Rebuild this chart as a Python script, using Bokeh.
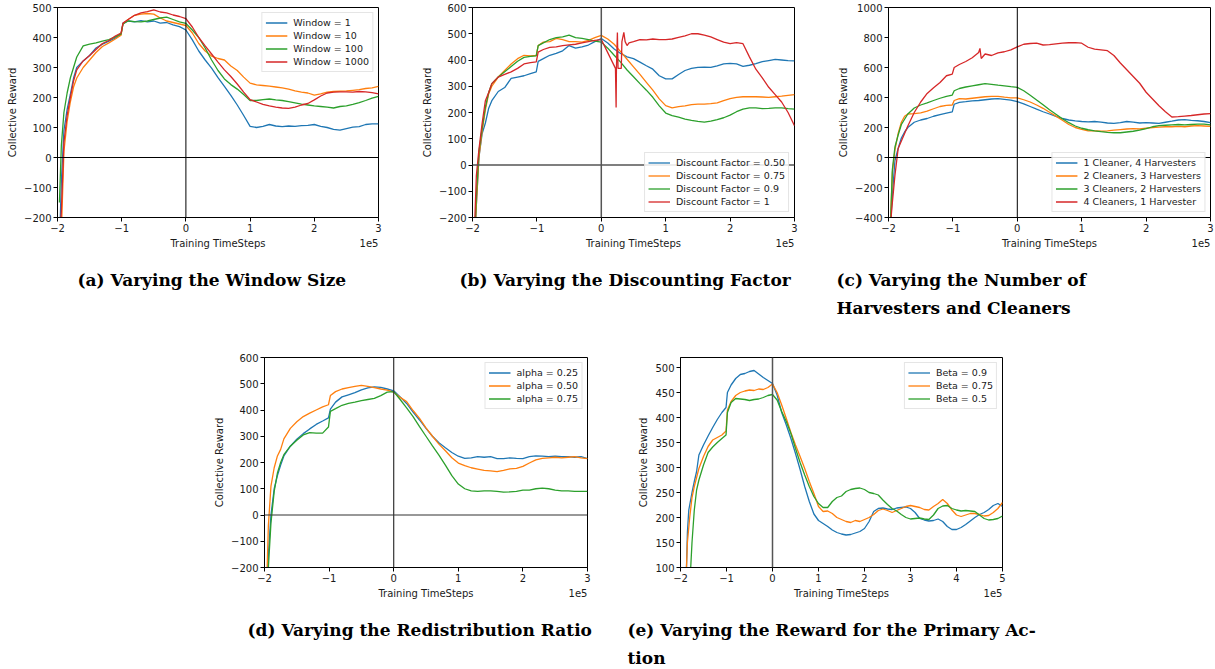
from bokeh.plotting import figure
from bokeh.models import (Span, Title, FixedTicker, Range1d, Spacer, Legend,
                          LegendItem, LinearAxis)
from bokeh.layouts import row, column
from bokeh.embed import file_html
from bokeh.resources import INLINE

colors = ["#1f77b4", "#ff7f0e", "#2ca02c", "#d62728"]

# ---------------- tick labels ----------------
x_ticks_3 = [-2, -1, 0, 1, 2, 3]
x_tick_labels_3 = ["\u22122", "\u22121", "0", "1", "2", "3"]
x_ticks_5 = [-2, -1, 0, 1, 2, 3, 4, 5]
x_tick_labels_5 = ["\u22122", "\u22121", "0", "1", "2", "3", "4", "5"]
y_ticks_a = [-200, -100, 0, 100, 200, 300, 400, 500]
y_tick_labels_a = ["\u2212200", "\u2212100", "0", "100", "200", "300", "400", "500"]
y_ticks_b = [-200, -100, 0, 100, 200, 300, 400, 500, 600]
y_tick_labels_b = ["\u2212200", "\u2212100", "0", "100", "200", "300", "400", "500", "600"]
y_ticks_c = [-400, -200, 0, 200, 400, 600, 800, 1000]
y_tick_labels_c = ["\u2212400", "\u2212200", "0", "200", "400", "600", "800", "1000"]
y_ticks_e = [100, 150, 200, 250, 300, 350, 400, 450, 500]
y_tick_labels_e = ["100", "150", "200", "250", "300", "350", "400", "450", "500"]

# ---------------- data (x in units of 1e5 timesteps) ----------------
x_base = [-1.97, -1.94, -1.9, -1.85, -1.8, -1.75, -1.7,
          -1.6, -1.5, -1.4, -1.3, -1.2, -1.1,
          -1.01, -0.98,
          -0.9, -0.8, -0.7, -0.6, -0.5, -0.4, -0.3, -0.2, -0.1,
          0.0, 0.1, 0.2, 0.3, 0.4, 0.5, 0.6, 0.7, 0.8, 0.9,
          1.0, 1.1, 1.2, 1.3, 1.4, 1.5, 1.6, 1.7, 1.8, 1.9,
          2.0, 2.1, 2.2, 2.3, 2.4, 2.5, 2.6, 2.7, 2.8, 2.9, 3.0]

a_window_1 = [-300, -80, 90, 160, 210, 265, 300,
              322, 340, 365, 378, 388, 398,
              410, 448,
              455, 452, 456, 452, 455, 448, 450, 442, 436,
              425, 392, 355, 325, 298, 266, 237, 207, 175, 140,
              104, 100, 104, 110, 105, 103, 105, 104, 106, 107,
              110, 104, 100, 94, 91, 96, 101, 103, 110, 112, 112]
a_window_10 = [-300, -250, 20, 120, 185, 235, 265,
               300, 325, 350, 370, 382, 395,
               408, 445,
               460, 474, 478, 480, 478, 465, 455, 450, 445,
               440, 415, 380, 355, 338, 330, 325, 305, 290, 268,
               248, 242, 240, 238, 235, 232, 228, 222, 218, 215,
               208, 212, 218, 220, 221, 222, 224, 226, 230, 232, 237]
a_window_100 = [-150, 40, 150, 215, 265, 300, 335,
                372, 378, 382, 388, 393, 402,
                412, 445,
                455, 453, 452, 455, 460, 465, 468, 460, 452,
                447, 425, 400, 365, 325, 290, 262, 243, 228, 210,
                190, 190, 193, 195, 192, 190, 186, 182, 178, 175,
                172, 170, 168, 165, 170, 172, 177, 183, 190, 198, 204]
a_window_1000 = [-300, -180, 50, 140, 200, 255, 292,
                 322, 340, 360, 380, 390, 405,
                 415, 448,
                 460, 474, 482, 486, 492, 485, 482, 475, 470,
                 463, 435, 400, 372, 345, 318, 292, 270, 245, 218,
                 193, 185, 177, 172, 168, 165, 164, 168, 175, 180,
                 192, 205, 215, 218, 219, 219, 218, 220, 219, 216, 212]
a_labels = ["Window = 1", "Window = 10", "Window = 100", "Window = 1000"]

b_gamma_050 = [-300, -150, 30, 120, 160, 215, 245,
               280, 295, 330, 335, 340, 348,
               355, 395,
               405, 418, 425, 435, 455, 445, 450, 457, 470,
               482, 465, 442, 425, 412, 405, 392, 378, 365, 340,
               328, 328, 345, 360, 368, 372, 373, 372, 378, 385,
               387, 385, 376, 380, 386, 394, 398, 402, 400, 398, 397]
b_gamma_075 = [-300, -150, 30, 130, 210, 270, 300,
               335, 360, 385, 405, 418, 416,
               418, 455,
               468, 470, 482, 478, 470, 470, 468, 475, 485,
               494, 480, 460, 432, 403, 374, 345, 315, 285, 252,
               226, 218, 222, 225, 230, 232, 232, 234, 237, 245,
               253, 258, 260, 260, 260, 259, 258, 260, 262, 265, 268]
b_gamma_09 = [-300, -120, 50, 140, 220, 275, 310,
              335, 355, 375, 395, 410, 414,
              416, 455,
              465, 478, 485, 488, 495, 485, 482, 478, 472,
              468, 445, 418, 392, 362, 336, 310, 285, 258, 225,
              198, 188, 182, 175, 170, 166, 163, 167, 173, 180,
              190, 203, 213, 218, 218, 215, 216, 218, 218, 215, 213]
b_x_gamma_1 = [-1.97, -1.94, -1.9, -1.85, -1.8, -1.75, -1.7,
               -1.6, -1.5, -1.4, -1.3, -1.2, -1.1,
               -1.01, -0.98,
               -0.9, -0.8, -0.7, -0.6, -0.5, -0.4, -0.3, -0.2, -0.1, 0.0,
               0.1, 0.22, 0.23, 0.235, 0.25, 0.26, 0.31, 0.32, 0.35, 0.37, 0.4, 0.43,
               0.5, 0.6, 0.7, 0.8, 0.9, 1.0, 1.1, 1.2, 1.3, 1.4,
               1.5, 1.6, 1.7, 1.8, 1.9, 2.0, 2.1, 2.2, 2.3, 2.4,
               2.5, 2.6, 2.7, 2.8, 2.9, 3.0]
b_gamma_1 = [-250, -40, 60, 160, 245, 275, 310,
             335, 345, 355, 368, 385, 390,
             393, 430,
             440, 448, 450, 455, 458, 460, 465, 470, 475, 478,
             428, 368, 219, 368, 505, 368, 368, 470, 505, 470, 455, 465,
             470, 478, 477, 480, 478, 478, 480, 486, 492, 500,
             500, 495, 488, 478, 468, 462, 466, 462, 412, 365,
             332, 296, 268, 240, 200, 150]
b_labels = ["Discount Factor = 0.50", "Discount Factor = 0.75",
            "Discount Factor = 0.9", "Discount Factor = 1"]

c_1c4h = [-450, -250, -20, 60, 130, 170, 200,
          235, 250, 260, 275, 286, 296,
          304, 355,
          368, 372, 378, 380, 385, 390, 392, 388, 382,
          372, 358, 340, 322, 305, 290, 274, 260, 250, 244,
          240, 238, 240, 236, 230, 228, 232, 240, 236, 230,
          232, 230, 228, 235, 242, 250, 252, 248, 245, 240, 232]
c_2c3h = [-450, -100, 50, 160, 235, 275, 290,
          292, 298, 309, 325, 340, 348,
          350, 380,
          393, 390, 395, 400, 405, 408, 408, 402, 398,
          398, 385, 370, 350, 328, 302, 276, 248, 220, 200,
          188, 178, 178, 175, 178, 182, 186, 190, 192, 190,
          195, 200, 203, 205, 205, 208, 205, 210, 212, 210, 208]
c_3c2h = [-450, -80, 70, 150, 220, 255, 290,
          330, 350, 364, 380, 395, 408,
          416, 445,
          460, 470, 478, 485, 492, 488, 482, 478, 472,
          467, 445, 415, 383, 352, 318, 288, 258, 232, 210,
          195, 185, 178, 172, 168, 165, 165, 170, 175, 183,
          192, 205, 212, 215, 218, 220, 218, 220, 222, 222, 218]
c_x_4c1h = [-1.97, -1.94, -1.9, -1.85, -1.8, -1.75, -1.7,
            -1.6, -1.5, -1.4, -1.3, -1.2, -1.1,
            -1.01, -0.98,
            -0.9, -0.8, -0.7, -0.6, -0.58, -0.56,
            -0.5, -0.4, -0.3, -0.2, -0.1,
            0.0, 0.1, 0.2, 0.3, 0.4, 0.5, 0.6, 0.7, 0.8, 0.9,
            1.0, 1.1, 1.2, 1.3, 1.4, 1.5, 1.6, 1.7, 1.8, 1.9,
            2.0, 2.1, 2.2, 2.3, 2.4, 2.5, 2.6, 2.7, 2.8, 2.9, 3.0]
c_4c1h = [-450, -300, -120, 60, 110, 160, 210,
          300, 370, 427, 465, 500, 545,
          556, 600,
          620, 640, 665, 700, 727, 660,
          690, 680, 698, 705, 718,
          738, 755, 760, 762, 750, 752, 758, 762, 765, 766,
          762, 735, 722, 718, 712, 680, 630, 585, 540, 495,
          435, 390, 345, 305, 270, 272, 276, 280, 285, 290, 293]
c_labels = ["1 Cleaner, 4 Harvesters", "2 Cleaners, 3 Harvesters",
            "3 Cleaners, 2 Harvesters", "4 Cleaners, 1 Harvester"]

d_alpha_025 = [-300, -150, 0, 100, 150, 190, 225,
               262, 289, 310, 328, 345, 358,
               370, 403,
               430, 450, 458, 466, 477, 484, 488, 486, 480,
               473, 450, 425, 392, 362, 330, 300, 275, 256, 238,
               224, 216, 218, 222, 220, 222, 215, 215, 218, 216,
               215, 222, 225, 224, 222, 224, 222, 222, 220, 222, 215]
d_alpha_050 = [-300, -40, 110, 180, 225, 250, 290,
               330, 355, 375, 388, 400, 412,
               420, 455,
               470, 480, 485, 490, 494, 490, 485, 480, 476,
               468, 448, 432, 398, 368, 332, 300, 270, 245, 218,
               198, 188, 180, 175, 170, 168, 165, 170, 176, 178,
               185, 198, 210, 216, 218, 220, 218, 220, 222, 218, 215]
d_alpha_075 = [-300, -200, -30, 90, 160, 200, 230,
               262, 285, 305, 314, 312, 312,
               335, 395,
               405, 418, 425, 430, 436, 440, 444, 455, 468,
               470, 440, 408, 375, 337, 300, 263, 228, 190, 150,
               118, 100, 92, 90, 92, 92, 90, 87, 88, 90,
               95, 95, 100, 102, 100, 95, 92, 92, 90, 90, 90]
d_labels = ["alpha = 0.25", "alpha = 0.50", "alpha = 0.75"]

e_x = [-1.9, -1.87, -1.85, -1.82, -1.8, -1.75, -1.7, -1.65, -1.6,
       -1.5, -1.4, -1.3, -1.2, -1.1,
       -1.01, -0.98,
       -0.9, -0.8, -0.7, -0.6, -0.5, -0.4, -0.3, -0.2, -0.1,
       0.0, 0.1, 0.2, 0.3, 0.4, 0.5, 0.6, 0.7, 0.8, 0.9,
       1.0, 1.1, 1.2, 1.3, 1.4, 1.5, 1.6, 1.7, 1.8, 1.9,
       2.0, 2.1, 2.2, 2.3, 2.4, 2.5, 2.6, 2.7, 2.8, 2.9,
       3.0, 3.1, 3.2, 3.3, 3.4, 3.5, 3.6, 3.7, 3.8, 3.9,
       4.0, 4.1, 4.2, 4.3, 4.4, 4.5, 4.6, 4.7, 4.8, 4.9,
       5.0]
e_beta_09 = [40, 100, 170, 215, 225, 250, 272, 292, 325,
             345, 363, 380, 396, 410,
             420, 450,
             465, 478, 486, 488, 492, 494, 487, 480, 474,
             468, 445, 410, 385, 358, 328, 296, 262, 232, 207,
             194, 188, 182, 175, 170, 167, 165, 166, 169, 172,
             178, 192, 212, 218, 219, 217, 216, 219, 220, 221,
             218, 210, 198, 195, 193, 194, 197, 192, 182, 176,
             176, 180, 186, 193, 200, 206, 210, 216, 224, 228,
             222]
e_beta_075 = [40, 100, 150, 180, 200, 240, 262, 280, 298,
              322, 342, 355, 360, 365,
              373, 415,
              432, 444, 450, 453, 455, 454, 457, 456, 460,
              467, 450, 425, 398, 370, 345, 322, 298, 272, 248,
              222, 212, 213, 208, 200, 196, 192, 190, 194, 192,
              196, 200, 206, 214, 217, 214, 210, 214, 218, 222,
              224, 222, 220, 216, 215, 222, 228, 236, 228, 215,
              205, 202, 205, 208, 208, 206, 203, 204, 210, 218,
              230]
e_beta_05 = [40, 40, 40, 40, 60, 150, 215, 255, 275,
             305, 330, 341, 350, 358,
             365, 410,
             430, 438, 437, 436, 434, 436, 437, 440, 444,
             446, 435, 412, 392, 368, 338, 310, 285, 262, 242,
             228, 220, 220, 232, 240, 243, 252, 256, 258, 259,
             256, 250, 248, 245, 235, 226, 218, 213, 206, 200,
             197, 198, 199, 197, 196, 205, 218, 223, 224, 218,
             215, 213, 214, 213, 212, 205, 198, 195, 196, 198,
             203]
e_labels = ["Beta = 0.9", "Beta = 0.75", "Beta = 0.5"]

captions = {
    "a": ["(a) Varying the Window Size"],
    "b": ["(b) Varying the Discounting Factor"],
    "c": ["(c) Varying the Number of", "Harvesters and Cleaners"],
    "d": ["(d) Varying the Redistribution Ratio"],
    "e": ["(e) Varying the Reward for the Primary Ac-", "tion"],
}
offset_text = "1e5"

TICK_FONT = "DejaVu Sans"
CAP_FONT = "DejaVu Serif"


def make_panel(xr, yr, xt, xtl, yt, ytl, series, labels, legend_loc,
               fw, left, right, top, bottom, caption, cap_offset, hline=True,
               span_color="black", span_width=1):
    p = figure(title=None, frame_width=fw, frame_height=210,
               min_border_left=left, min_border_right=right,
               min_border_top=top, min_border_bottom=bottom,
               x_range=Range1d(*xr), y_range=Range1d(*yr),
               output_backend="svg", toolbar_location=None, tools="",
               background_fill_color="white", border_fill_color="white",
               outline_line_color="black", outline_line_width=1)
    p.xgrid.visible = False
    p.ygrid.visible = False
    p.xaxis.ticker = FixedTicker(ticks=xt)
    p.xaxis.major_label_overrides = dict(zip(xt, xtl))
    p.yaxis.ticker = FixedTicker(ticks=yt)
    p.yaxis.major_label_overrides = dict(zip(yt, ytl))
    p.xaxis.axis_label = "Training TimeSteps"
    p.yaxis.axis_label = "Collective Reward"
    for ax in (p.xaxis[0], p.yaxis[0]):
        ax.major_tick_out = 4
        ax.major_tick_in = 0
        ax.minor_tick_out = 0
        ax.minor_tick_in = 0
        ax.axis_line_color = "black"
        ax.major_tick_line_color = "black"
        ax.major_label_text_font = TICK_FONT
        ax.major_label_text_font_size = "10px"
        ax.major_label_text_color = "#1a1a1a"
        ax.major_label_standoff = 2
        ax.axis_label_text_font = TICK_FONT
        ax.axis_label_text_font_size = "10px"
        ax.axis_label_text_font_style = "normal"
        ax.axis_label_text_color = "#1a1a1a"
        ax.axis_label_standoff = 3

    p.add_layout(Span(location=0, dimension="height", line_color=span_color,
                      line_width=span_width))
    if hline:
        p.add_layout(Span(location=0, dimension="width", line_color=span_color,
                          line_width=span_width))

    items = []
    for (xs, ys), lab, col in zip(series, labels, colors):
        r = p.line(xs, ys, line_color=col, line_width=1.3)
        items.append(LegendItem(label=lab, renderers=[r]))
    leg = Legend(items=items, location=legend_loc, margin=5, padding=3, spacing=0,
                 label_height=13, glyph_height=13, glyph_width=22, label_standoff=6,
                 label_text_font=TICK_FONT, label_text_font_size="9.5px",
                 label_text_color="#1a1a1a",
                 border_line_color="#cccccc", border_line_width=1,
                 background_fill_color="white", background_fill_alpha=0.85)
    p.add_layout(leg)

    # offset text "1e5" drawn as a tick label of a secondary bottom axis,
    # right-aligned with the end of the x axis, on the axis-label row
    xpos = xr[1] - 9.5 * (xr[1] - xr[0]) / fw
    ax2 = LinearAxis(ticker=FixedTicker(ticks=[xpos]),
                     major_label_overrides={xpos: offset_text},
                     major_tick_out=0, major_tick_in=0, minor_tick_out=0, minor_tick_in=0,
                     axis_line_color=None, major_tick_line_color=None,
                     major_label_standoff=-13,
                     major_label_text_font=TICK_FONT, major_label_text_font_size="10px",
                     major_label_text_color="#1a1a1a")
    p.add_layout(ax2, "below")

    p.add_layout(Title(text=" ", text_font_size="10px", standoff=0), "below")
    for line in caption:
        p.add_layout(Title(text=line, align="left", offset=cap_offset,
                           text_font=CAP_FONT, text_font_size="17px",
                           text_font_style="bold", text_color="black",
                           standoff=6), "below")
    return p


pa = make_panel((-2, 3), (-200, 500), x_ticks_3, x_tick_labels_3, y_ticks_a, y_tick_labels_a,
                [(x_base, a_window_1), (x_base, a_window_10), (x_base, a_window_100),
                 (x_base, a_window_1000)],
                a_labels, "top_right", 321, 57, 27, 7, 123, captions["a"], 20)
pb = make_panel((-2, 3), (-200, 600), x_ticks_3, x_tick_labels_3, y_ticks_b, y_tick_labels_b,
                [(x_base, b_gamma_050), (x_base, b_gamma_075), (x_base, b_gamma_09),
                 (b_x_gamma_1, b_gamma_1)],
                b_labels, "bottom_right", 322, 67, 16, 7, 123, captions["b"], -13,
                span_color="#555555", span_width=1.5)
pc = make_panel((-2, 3), (-400, 1000), x_ticks_3, x_tick_labels_3, y_ticks_c, y_tick_labels_c,
                [(x_base, c_1c4h), (x_base, c_2c3h), (x_base, c_3c2h), (c_x_4c1h, c_4c1h)],
                c_labels, "bottom_right", 322, 78, 5, 7, 123, captions["c"], -52)
pd = make_panel((-2, 3), (-200, 600), x_ticks_3, x_tick_labels_3, y_ticks_b, y_tick_labels_b,
                [(x_base, d_alpha_025), (x_base, d_alpha_050), (x_base, d_alpha_075)],
                d_labels, "top_right", 323, 64, 23, 17, 102, captions["d"], -17,
                span_color="#333333", span_width=1.2)
pe = make_panel((-2, 5), (100, 520), x_ticks_5, x_tick_labels_5, y_ticks_e, y_tick_labels_e,
                [(e_x, e_beta_09), (e_x, e_beta_075), (e_x, e_beta_05)],
                e_labels, "top_right", 322, 70, 38, 17, 102, captions["e"], -53, hline=False,
                span_color="#555555", span_width=1.5)

layout = column(row(pa, pb, pc), row(Spacer(width=200, height=329), pd, pe))
open("out.html", "w").write(file_html(layout, INLINE))
